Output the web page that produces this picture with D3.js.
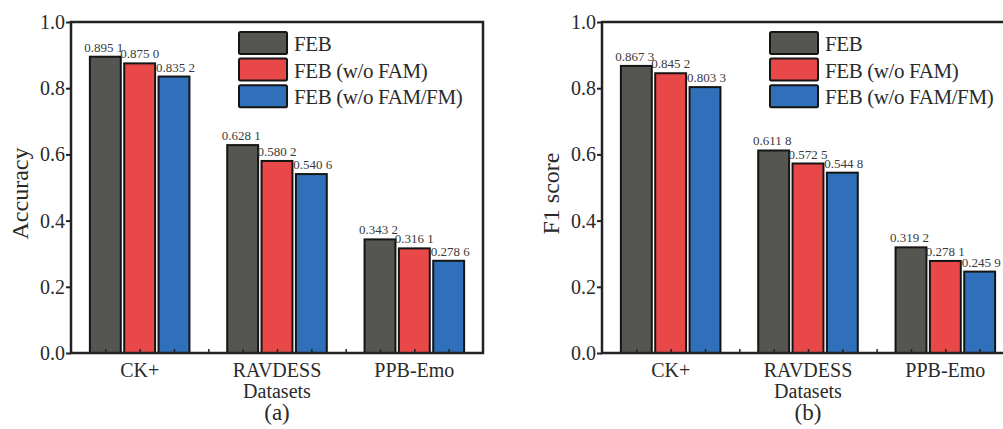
<!DOCTYPE html>
<html>
<head>
<meta charset="utf-8">
<script src="https://cdn.jsdelivr.net/npm/d3@7"></script>
<style>
	body { margin: 0; background: #fff; }
	svg { display: block; font-family: "Liberation Serif", "DejaVu Serif", serif; }
</style>
</head>
<body>
<svg id="chart" width="1003" height="429"></svg>
<script>
var datasets = ["CK+", "RAVDESS", "PPB-Emo"];
var seriesNames = ["FEB", "FEB (w/o FAM)", "FEB (w/o FAM/FM)"];
var seriesColors = ["#555651", "#e84848", "#306fba"];

// accuracy per series, one value per dataset
var accFEB = [0.8951, 0.6281, 0.3432];
var accNoFAM = [0.8750, 0.5802, 0.3161];
var accNoFAMFM = [0.8352, 0.5406, 0.2786];

// F1 score per series
var f1FEB = [0.8673, 0.6118, 0.3192];
var f1NoFAM = [0.8452, 0.5725, 0.2781];
var f1NoFAMFM = [0.8033, 0.5448, 0.2459];

var yTicks = [0, 0.2, 0.4, 0.6, 0.8, 1.0];

var svg = d3.select("#chart");

function fmtValue(v) {
	// "0.8951" -> "0.895 1"
	return d3.format(".4f")(v).replace(/(\d)$/, " $1");
}

function drawPanel(left, aSeries, sTitle, sTag) {
	var top = 22,
		iWidth = 412,
		iHeight = 331;

	var g = svg.append("g").attr("transform", "translate(" + left + "," + top + ")");

	// 3 bars per dataset, one empty slot between datasets
	var x = d3.scaleLinear().domain([0, 12]).range([0, iWidth]);
	var y = d3.scaleLinear().domain([0, 1]).range([iHeight, 0]);
	var fBarW = x(0.9) - x(0);

	var aBars = [];
	aSeries.forEach(function (aVals, j) {
		aVals.forEach(function (v, i) {
			aBars.push({pos: 4 * i + j + 1, value: v, series: j});
		});
	});

	g.selectAll(".bar")
		.data(aBars)
		.enter().append("rect")
		.attr("class", "bar")
		.attr("x", function (d) { return x(d.pos) - fBarW / 2; })
		.attr("y", function (d) { return y(d.value); })
		.attr("width", fBarW)
		.attr("height", function (d) { return iHeight - y(d.value); })
		.attr("fill", function (d) { return seriesColors[d.series]; })
		.attr("stroke", "#151515")
		.attr("stroke-width", 2);

	g.selectAll(".val")
		.data(aBars)
		.enter().append("text")
		.attr("class", "val")
		.attr("x", function (d) { return x(d.pos) + (d.series - 1) * 1.5; })
		.attr("y", function (d) { return y(d.value) - 5; })
		.attr("text-anchor", "middle")
		.attr("font-size", 13)
		.attr("fill", "#3a3a3a")
		.text(function (d) { return fmtValue(d.value); });

	// axes
	var yAxis = d3.axisLeft(y)
		.tickValues(yTicks)
		.tickFormat(d3.format(".1f"))
		.tickSize(5)
		.tickSizeOuter(0)
		.tickPadding(1);
	var gy = g.append("g").call(yAxis);
	gy.select(".domain").remove();
	gy.selectAll("line").attr("stroke", "#222").attr("stroke-width", 2);
	gy.selectAll("text")
		.attr("font-size", 20)
		.attr("fill", "#2a2a2a")
		.attr("font-family", "Liberation Serif, serif");

	var xAxis = d3.axisBottom(x)
		.tickValues(d3.range(1, 12))
		.tickFormat("")
		.tickSize(-4)
		.tickSizeOuter(0);
	var gx = g.append("g").attr("transform", "translate(0," + iHeight + ")").call(xAxis);
	gx.select(".domain").remove();
	gx.selectAll("line").attr("stroke", "#222").attr("stroke-width", 1.5);

	g.append("rect")
		.attr("width", iWidth)
		.attr("height", iHeight)
		.attr("fill", "none")
		.attr("stroke", "#222")
		.attr("stroke-width", 2.5);

	// dataset labels
	g.selectAll(".cat")
		.data(datasets)
		.enter().append("text")
		.attr("class", "cat")
		.attr("x", function (d, i) { return x(4 * i + 2); })
		.attr("y", iHeight + 24)
		.attr("text-anchor", "middle")
		.attr("font-size", 20)
		.attr("fill", "#2a2a2a")
		.text(function (d) { return d; });

	g.append("text")
		.attr("x", x(6))
		.attr("y", iHeight + 45)
		.attr("text-anchor", "middle")
		.attr("font-size", 20)
		.attr("fill", "#2a2a2a")
		.text("Datasets");

	g.append("text")
		.attr("x", x(6))
		.attr("y", iHeight + 67)
		.attr("text-anchor", "middle")
		.attr("font-size", 23)
		.attr("fill", "#2a2a2a")
		.text(sTag);

	g.append("text")
		.attr("transform", "translate(-43," + (iHeight / 2 + 6) + ") rotate(-90)")
		.attr("text-anchor", "middle")
		.attr("font-size", 24)
		.attr("fill", "#2a2a2a")
		.text(sTitle);

	// legend
	var gl = g.append("g").attr("transform", "translate(168,10)");
	var rows = gl.selectAll(".leg")
		.data(seriesNames)
		.enter().append("g")
		.attr("class", "leg")
		.attr("transform", function (d, i) { return "translate(0," + (i * 26.6) + ")"; });
	rows.append("rect")
		.attr("width", 48)
		.attr("height", 22)
		.attr("rx", 1.5)
		.attr("fill", function (d, i) { return seriesColors[i]; })
		.attr("stroke", "#151515")
		.attr("stroke-width", 2);
	rows.append("text")
		.attr("x", 55)
		.attr("y", 19)
		.attr("font-size", 21)
		.attr("letter-spacing", -0.4)
		.attr("fill", "#2a2a2a")
		.text(function (d) { return d; });
}

drawPanel(71, [accFEB, accNoFAM, accNoFAMFM], "Accuracy", "(a)");
drawPanel(602, [f1FEB, f1NoFAM, f1NoFAMFM], "F1 score", "(b)");
</script>
</body>
</html>
